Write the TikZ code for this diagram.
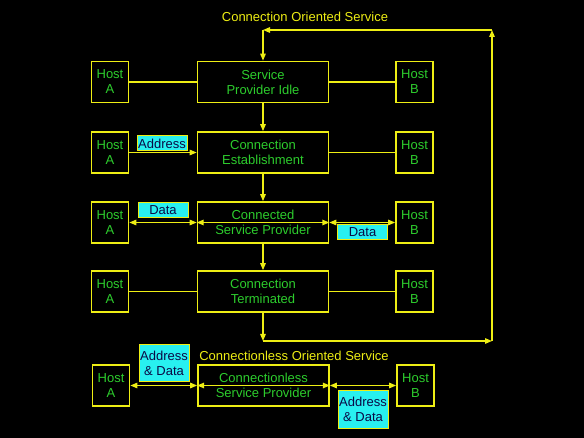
\documentclass[tikz,border=0pt]{standalone}
\usepackage{fontspec}
\setmainfont{Liberation Sans}
\usetikzlibrary{arrows.meta}
\definecolor{ylw}{RGB}{238,238,20}
\definecolor{grn}{RGB}{45,205,45}
\definecolor{cyn}{RGB}{40,240,240}
\definecolor{navy}{RGB}{10,10,70}
\begin{document}
\begin{tikzpicture}[x=1pt,y=-1pt,
  txt/.style={font=\fontsize{13}{15}\selectfont},
  box/.style={txt,draw=ylw,line width=1.7pt,text=grn,align=center,inner sep=0pt},
  host/.style={box,minimum width=37pt,minimum height=41pt},
  stage/.style={box,minimum width=131pt,minimum height=41pt},
  tag/.style={txt,draw=ylw,line width=1pt,fill=cyn,text=navy,align=center,inner sep=0pt,minimum width=50pt,minimum height=15pt},
  tagtwo/.style={tag,minimum height=37pt},
  conn/.style={ylw,line width=1.3pt},
  arr/.style={conn,-{Triangle[length=7pt,width=5.5pt]}},
  darr/.style={conn,{Triangle[length=7pt,width=5.5pt]}-{Triangle[length=7pt,width=5.5pt]}},
  ttl/.style={txt,text=ylw}]
\fill[black] (0,0) rectangle (584,438);
\useasboundingbox (0,0) rectangle (584,438);

\node[ttl] (t1) at (305,17) {Connection Oriented Service};

% row 1
\node[host]  (a1) at (110,82) {Host\\A};
\node[stage] (s1) at (263,82) {Service\\Provider Idle};
\node[host]  (b1) at (414.5,82) {Host\\B};
% row 2
\node[host]  (a2) at (110,152.5) {Host\\A};
\node[stage] (s2) at (263,152.5) {Connection\\Establishment};
\node[host]  (b2) at (414.5,152.5) {Host\\B};
% row 3
\node[host]  (a3) at (110,222.5) {Host\\A};
\node[stage] (s3) at (263,222.5) {Connected\\Service Provider};
\node[host]  (b3) at (414.5,222.5) {Host\\B};
% row 4
\node[host]  (a4) at (110,291.5) {Host\\A};
\node[stage] (s4) at (263,291.5) {Connection\\Terminated};
\node[host]  (b4) at (414.5,291.5) {Host\\B};
% row 5
\node[ttl] (t2) at (294,356) {Connectionless Oriented Service};
\node[host]  (a5) at (111,385.5) {Host\\A};
\node[stage] (s5) at (263.5,385.5) {Connectionless\\Service Provider};
\node[host]  (b5) at (415.5,385.5) {Host\\B};

% loop coordinates
\coordinate (c1) at (263,341);
\coordinate (c2) at (492,341);
\coordinate (c3) at (492,30);
\coordinate (c4) at (263,30);

% row connectors
\draw[conn] (a1) -- (s1);
\draw[conn] (s1) -- (b1);
\draw[arr]  (a2) -- (s2);
\draw[conn] (s2) -- (b2);
\draw[darr] (a3) -- (s3.west);
\draw[darr] (s3.west) -- (s3.east);
\draw[darr] (s3.east) -- (b3);
\draw[conn] (a4) -- (s4);
\draw[conn] (s4) -- (b4);
\draw[darr] (a5) -- (s5.west);
\draw[darr] (s5.west) -- (s5.east);
\draw[darr] (s5.east) -- (b5);

% vertical flow
\draw[arr] (s1) -- (s2);
\draw[arr] (s2) -- (s3);
\draw[arr] (s3) -- (s4);
\draw[arr] (s4) -- (c1);
\draw[arr] (c1) -- (c2);
\draw[arr] (c2) -- (c3);
\draw[arr] (c3) -- (c4);
\draw[arr] (c4) -- (s1);

% tags
\node[tag] (l1) at (162,143.5) {Address};
\node[tag] (l2) at (163,210.5) {Data};
\node[tag] (l3) at (362.5,232.5) {Data};
\node[tagtwo] (l4) at (164,363.5) {Address\\\& Data};
\node[tagtwo] (l5) at (363,409.5) {Address\\\& Data};
\end{tikzpicture}
\end{document}
